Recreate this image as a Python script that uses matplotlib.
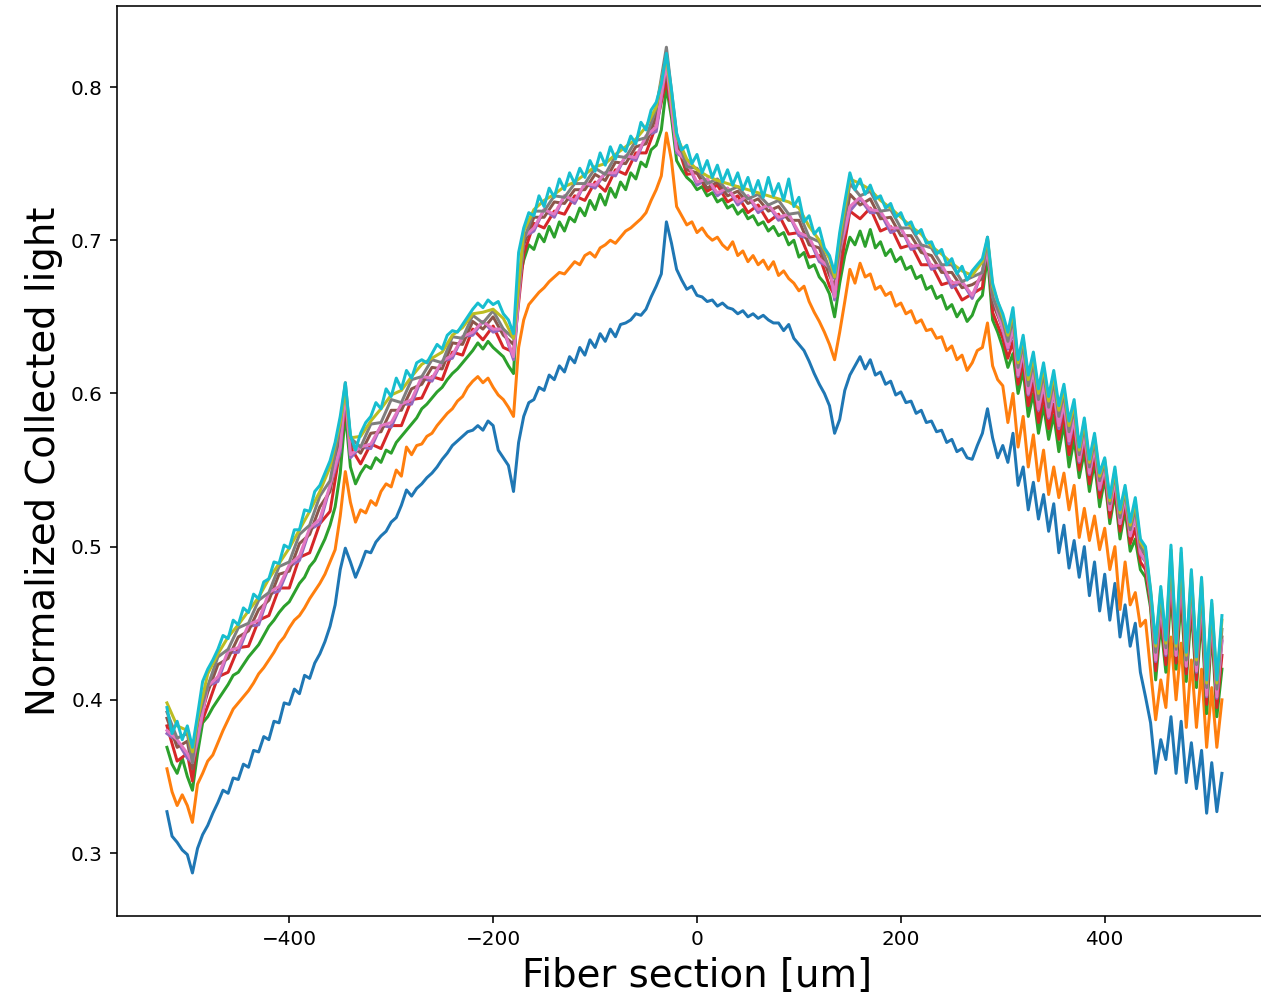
import numpy as np
import matplotlib
matplotlib.use("Agg")
import matplotlib.pyplot as plt

# Fine sampling grid (um) for the four fully-resolved curves
X_START = -520
X_STEP = 5

blue = [
    0.327, 0.311, 0.307, 0.302, 0.299, 0.287, 0.303, 0.312, 0.318, 0.326,
    0.333, 0.341, 0.339, 0.349, 0.348, 0.358, 0.356, 0.367, 0.366, 0.376,
    0.374, 0.386, 0.385, 0.398, 0.397, 0.407, 0.404, 0.416, 0.414, 0.424,
    0.430, 0.438, 0.448, 0.462, 0.485, 0.499, 0.490, 0.480, 0.488, 0.497,
    0.496, 0.503, 0.507, 0.510, 0.516, 0.519, 0.527, 0.537, 0.533, 0.538,
    0.541, 0.545, 0.548, 0.552, 0.557, 0.561, 0.566, 0.569, 0.572, 0.575,
    0.576, 0.579, 0.576, 0.582, 0.579, 0.563, 0.558, 0.553, 0.536, 0.568,
    0.585, 0.594, 0.596, 0.604, 0.602, 0.612, 0.609, 0.618, 0.614, 0.624,
    0.620, 0.630, 0.625, 0.635, 0.630, 0.639, 0.634, 0.642, 0.637, 0.645,
    0.646, 0.648, 0.652, 0.651, 0.655, 0.663, 0.670, 0.678, 0.712, 0.698,
    0.681, 0.674, 0.668, 0.670, 0.664, 0.663, 0.660, 0.661, 0.657, 0.659,
    0.656, 0.655, 0.652, 0.654, 0.650, 0.652, 0.649, 0.651, 0.648, 0.646,
    0.646, 0.641, 0.645, 0.636, 0.632, 0.628, 0.621, 0.613, 0.606, 0.600,
    0.592, 0.574, 0.583, 0.602, 0.612, 0.618, 0.624, 0.616, 0.622, 0.612,
    0.614, 0.606, 0.608, 0.599, 0.601, 0.594, 0.595, 0.587, 0.589, 0.581,
    0.582, 0.575, 0.576, 0.568, 0.570, 0.562, 0.564, 0.558, 0.557, 0.566,
    0.574, 0.590, 0.571, 0.558, 0.566, 0.555, 0.574, 0.540, 0.552, 0.524,
    0.542, 0.518, 0.534, 0.510, 0.528, 0.496, 0.514, 0.486, 0.504, 0.480,
    0.500, 0.468, 0.490, 0.458, 0.482, 0.452, 0.476, 0.441, 0.462, 0.435,
    0.450, 0.418, 0.402, 0.385, 0.352, 0.374, 0.361, 0.389, 0.352, 0.386,
    0.346, 0.372, 0.342, 0.367, 0.326, 0.359, 0.327, 0.352,
]

orange = [
    0.355, 0.340, 0.331, 0.338, 0.331, 0.320, 0.345, 0.352, 0.360, 0.364,
    0.372, 0.380, 0.387, 0.394, 0.398, 0.402, 0.406, 0.411, 0.417, 0.421,
    0.426, 0.431, 0.437, 0.441, 0.447, 0.452, 0.455, 0.460, 0.466, 0.471,
    0.476, 0.482, 0.490, 0.498, 0.520, 0.549, 0.529, 0.516, 0.524, 0.522,
    0.530, 0.527, 0.536, 0.541, 0.539, 0.550, 0.546, 0.565, 0.560, 0.566,
    0.567, 0.572, 0.574, 0.579, 0.583, 0.587, 0.590, 0.595, 0.598, 0.604,
    0.608, 0.611, 0.607, 0.610, 0.604, 0.599, 0.596, 0.591, 0.585, 0.630,
    0.648, 0.658, 0.662, 0.666, 0.669, 0.673, 0.676, 0.679, 0.678, 0.682,
    0.686, 0.684, 0.690, 0.692, 0.689, 0.695, 0.697, 0.700, 0.698, 0.702,
    0.706, 0.708, 0.711, 0.714, 0.718, 0.726, 0.733, 0.742, 0.770, 0.752,
    0.722, 0.716, 0.710, 0.712, 0.705, 0.708, 0.703, 0.700, 0.702, 0.697,
    0.694, 0.699, 0.690, 0.693, 0.686, 0.690, 0.684, 0.687, 0.681, 0.686,
    0.677, 0.680, 0.675, 0.672, 0.667, 0.670, 0.660, 0.653, 0.647, 0.640,
    0.632, 0.622, 0.640, 0.660, 0.681, 0.672, 0.685, 0.676, 0.678, 0.668,
    0.670, 0.664, 0.666, 0.657, 0.659, 0.652, 0.654, 0.646, 0.648, 0.641,
    0.642, 0.636, 0.637, 0.628, 0.631, 0.622, 0.625, 0.615, 0.620, 0.628,
    0.630, 0.646, 0.618, 0.609, 0.605, 0.581, 0.600, 0.565, 0.585, 0.552,
    0.573, 0.543, 0.563, 0.534, 0.552, 0.532, 0.548, 0.524, 0.540, 0.506,
    0.525, 0.504, 0.520, 0.498, 0.512, 0.485, 0.500, 0.459, 0.490, 0.462,
    0.470, 0.448, 0.452, 0.419, 0.387, 0.413, 0.395, 0.441, 0.400, 0.437,
    0.382, 0.426, 0.382, 0.420, 0.369, 0.408, 0.369, 0.400,
]

green = [
    0.369, 0.358, 0.352, 0.362, 0.350, 0.341, 0.365, 0.385, 0.389, 0.395,
    0.400, 0.405, 0.410, 0.416, 0.418, 0.423, 0.428, 0.432, 0.436, 0.442,
    0.448, 0.452, 0.457, 0.461, 0.464, 0.470, 0.476, 0.480, 0.487, 0.491,
    0.498, 0.505, 0.514, 0.526, 0.548, 0.587, 0.552, 0.541, 0.548, 0.553,
    0.551, 0.558, 0.555, 0.563, 0.561, 0.568, 0.572, 0.576, 0.580, 0.584,
    0.590, 0.593, 0.597, 0.601, 0.604, 0.609, 0.613, 0.616, 0.620, 0.624,
    0.628, 0.633, 0.629, 0.634, 0.630, 0.627, 0.624, 0.618, 0.613, 0.672,
    0.687, 0.697, 0.694, 0.704, 0.699, 0.709, 0.702, 0.712, 0.706, 0.715,
    0.712, 0.721, 0.716, 0.726, 0.720, 0.730, 0.723, 0.734, 0.728, 0.738,
    0.733, 0.744, 0.740, 0.751, 0.748, 0.759, 0.762, 0.772, 0.800, 0.780,
    0.752, 0.746, 0.741, 0.738, 0.733, 0.735, 0.729, 0.731, 0.725, 0.727,
    0.721, 0.723, 0.717, 0.720, 0.714, 0.716, 0.710, 0.712, 0.706, 0.709,
    0.703, 0.705, 0.697, 0.700, 0.689, 0.692, 0.682, 0.684, 0.676, 0.672,
    0.665, 0.650, 0.672, 0.690, 0.702, 0.697, 0.706, 0.696, 0.707, 0.695,
    0.699, 0.690, 0.694, 0.686, 0.689, 0.681, 0.683, 0.675, 0.677, 0.668,
    0.670, 0.662, 0.664, 0.655, 0.658, 0.650, 0.655, 0.647, 0.651, 0.660,
    0.664, 0.690, 0.648, 0.640, 0.630, 0.617, 0.626, 0.600, 0.615, 0.585,
    0.600, 0.574, 0.592, 0.570, 0.586, 0.562, 0.580, 0.552, 0.570, 0.545,
    0.562, 0.536, 0.555, 0.526, 0.545, 0.515, 0.535, 0.505, 0.524, 0.497,
    0.505, 0.485, 0.480, 0.460, 0.413, 0.450, 0.418, 0.470, 0.420, 0.466,
    0.412, 0.460, 0.408, 0.455, 0.391, 0.446, 0.389, 0.420,
]

cyan = [
    0.395, 0.378, 0.386, 0.374, 0.383, 0.369, 0.390, 0.412, 0.420, 0.426,
    0.433, 0.442, 0.440, 0.452, 0.449, 0.460, 0.457, 0.469, 0.466, 0.477,
    0.479, 0.490, 0.489, 0.501, 0.499, 0.511, 0.511, 0.524, 0.523, 0.536,
    0.540, 0.548, 0.556, 0.568, 0.585, 0.607, 0.573, 0.563, 0.574, 0.581,
    0.585, 0.594, 0.590, 0.603, 0.598, 0.610, 0.603, 0.615, 0.610, 0.620,
    0.622, 0.620, 0.626, 0.632, 0.629, 0.638, 0.641, 0.640, 0.645, 0.650,
    0.655, 0.659, 0.656, 0.661, 0.658, 0.660, 0.652, 0.648, 0.639, 0.692,
    0.708, 0.718, 0.716, 0.729, 0.722, 0.734, 0.728, 0.740, 0.733, 0.744,
    0.737, 0.747, 0.741, 0.752, 0.745, 0.757, 0.749, 0.761, 0.753, 0.762,
    0.758, 0.768, 0.763, 0.777, 0.772, 0.785, 0.790, 0.802, 0.822, 0.798,
    0.770, 0.759, 0.762, 0.750, 0.756, 0.744, 0.752, 0.741, 0.749, 0.738,
    0.746, 0.736, 0.744, 0.733, 0.741, 0.730, 0.739, 0.728, 0.741, 0.729,
    0.737, 0.726, 0.740, 0.722, 0.728, 0.712, 0.716, 0.704, 0.708, 0.695,
    0.690, 0.679, 0.705, 0.725, 0.744, 0.733, 0.740, 0.730, 0.736, 0.727,
    0.729, 0.721, 0.724, 0.715, 0.718, 0.710, 0.712, 0.704, 0.707, 0.698,
    0.699, 0.691, 0.694, 0.684, 0.688, 0.678, 0.683, 0.674, 0.680, 0.684,
    0.688, 0.702, 0.672, 0.660, 0.652, 0.640, 0.656, 0.622, 0.638, 0.612,
    0.627, 0.603, 0.620, 0.598, 0.615, 0.592, 0.606, 0.582, 0.596, 0.565,
    0.584, 0.557, 0.574, 0.548, 0.558, 0.532, 0.552, 0.524, 0.540, 0.516,
    0.532, 0.505, 0.500, 0.472, 0.437, 0.474, 0.439, 0.501, 0.437, 0.499,
    0.431, 0.485, 0.428, 0.480, 0.413, 0.465, 0.413, 0.455,
]

# Coarser sampling grid (um) for the six tightly bunched middle curves
x_cluster = sorted(list(range(-520, 300, 10)) + [-495, -345, 135, 285]
                   + list(range(300, 516, 5)))

red = [
    0.383, 0.360, 0.365, 0.347, 0.378, 0.396, 0.415, 0.418, 0.434, 0.435, 0.452, 0.455, 0.473,
    0.473, 0.493, 0.496, 0.515, 0.523, 0.564, 0.591, 0.565, 0.554, 0.567, 0.564, 0.579,
    0.579, 0.596, 0.597, 0.611, 0.609, 0.627, 0.625, 0.642, 0.635, 0.644, 0.630, 0.627, 0.691,
    0.711, 0.708, 0.719, 0.717, 0.729, 0.726, 0.738, 0.732, 0.746, 0.743, 0.757, 0.757, 0.775,
    0.805, 0.764, 0.743,
    0.744, 0.732, 0.736, 0.725, 0.729, 0.718, 0.723, 0.712, 0.717, 0.704, 0.705, 0.689, 0.690,
    0.670, 0.664, 0.679, 0.719, 0.714, 0.721, 0.706, 0.709, 0.695, 0.697, 0.684, 0.684, 0.671,
    0.673, 0.661, 0.665, 0.669, 0.700, 0.653,
    0.636, 0.623, 0.634, 0.606, 0.621, 0.592, 0.607, 0.581, 0.599, 0.577, 0.593, 0.570, 0.587,
    0.560, 0.577, 0.550, 0.568, 0.541, 0.560, 0.532, 0.548, 0.519, 0.539, 0.510, 0.528, 0.502,
    0.512, 0.490, 0.485, 0.463, 0.419, 0.456, 0.423, 0.478, 0.424, 0.474, 0.417, 0.466, 0.413,
    0.461, 0.397, 0.451, 0.395, 0.429,
]

purple = [
    0.378, 0.373, 0.362, 0.359, 0.373, 0.409, 0.412, 0.431, 0.431, 0.448, 0.449, 0.469, 0.471,
    0.487, 0.491, 0.511, 0.515, 0.539, 0.562, 0.601, 0.558, 0.565, 0.564, 0.579, 0.578,
    0.593, 0.593, 0.610, 0.608, 0.621, 0.623, 0.637, 0.638, 0.647, 0.640, 0.642, 0.622, 0.702,
    0.706, 0.720, 0.715, 0.729, 0.724, 0.737, 0.734, 0.744, 0.742, 0.755, 0.752, 0.768, 0.771,
    0.815, 0.757, 0.752,
    0.736, 0.740, 0.729, 0.734, 0.723, 0.729, 0.718, 0.723, 0.713, 0.717, 0.703, 0.701, 0.686,
    0.682, 0.661, 0.693, 0.719, 0.727, 0.718, 0.718, 0.705, 0.708, 0.694, 0.696, 0.681, 0.683,
    0.669, 0.673, 0.662, 0.680, 0.692, 0.664,
    0.641, 0.629, 0.641, 0.611, 0.627, 0.599, 0.614, 0.589, 0.606, 0.584, 0.601, 0.577, 0.593,
    0.567, 0.583, 0.555, 0.573, 0.547, 0.565, 0.537, 0.552, 0.524, 0.544, 0.515, 0.532, 0.507,
    0.519, 0.495, 0.490, 0.466, 0.425, 0.462, 0.429, 0.486, 0.429, 0.483, 0.422, 0.473, 0.418,
    0.468, 0.402, 0.456, 0.401, 0.438,
]

brown = [
    0.388, 0.369, 0.373, 0.355, 0.382, 0.405, 0.423, 0.427, 0.441, 0.445, 0.459, 0.465, 0.482,
    0.484, 0.502, 0.508, 0.526, 0.536, 0.573, 0.596, 0.567, 0.561, 0.574, 0.575, 0.589,
    0.589, 0.603, 0.606, 0.617, 0.616, 0.633, 0.632, 0.647, 0.642, 0.650, 0.638, 0.632, 0.697,
    0.715, 0.715, 0.725, 0.724, 0.733, 0.733, 0.743, 0.739, 0.751, 0.750, 0.761, 0.763, 0.781,
    0.810, 0.766, 0.746,
    0.744, 0.734, 0.738, 0.729, 0.732, 0.724, 0.727, 0.719, 0.722, 0.713, 0.713, 0.697, 0.695,
    0.677, 0.670, 0.689, 0.730, 0.723, 0.727, 0.714, 0.715, 0.703, 0.703, 0.692, 0.690, 0.679,
    0.679, 0.669, 0.671, 0.675, 0.700, 0.659,
    0.643, 0.631, 0.644, 0.613, 0.629, 0.601, 0.616, 0.591, 0.609, 0.587, 0.603, 0.580, 0.596,
    0.570, 0.586, 0.557, 0.575, 0.549, 0.566, 0.539, 0.553, 0.525, 0.545, 0.516, 0.534, 0.508,
    0.521, 0.497, 0.492, 0.467, 0.427, 0.464, 0.431, 0.489, 0.430, 0.486, 0.423, 0.475, 0.420,
    0.470, 0.404, 0.457, 0.403, 0.441,
]

pink = [
    0.380, 0.374, 0.365, 0.359, 0.375, 0.409, 0.415, 0.432, 0.434, 0.449, 0.452, 0.470, 0.474,
    0.488, 0.494, 0.512, 0.518, 0.540, 0.565, 0.601, 0.560, 0.565, 0.567, 0.579, 0.581,
    0.593, 0.596, 0.611, 0.610, 0.621, 0.625, 0.637, 0.640, 0.647, 0.642, 0.642, 0.624, 0.702,
    0.708, 0.720, 0.717, 0.729, 0.726, 0.737, 0.736, 0.744, 0.744, 0.755, 0.754, 0.768, 0.774,
    0.815, 0.759, 0.751,
    0.738, 0.740, 0.731, 0.734, 0.725, 0.729, 0.720, 0.723, 0.715, 0.717, 0.705, 0.702, 0.688,
    0.682, 0.663, 0.693, 0.722, 0.728, 0.720, 0.719, 0.708, 0.708, 0.696, 0.697, 0.683, 0.684,
    0.672, 0.673, 0.664, 0.680, 0.694, 0.664,
    0.642, 0.630, 0.643, 0.612, 0.628, 0.600, 0.615, 0.590, 0.607, 0.585, 0.602, 0.579, 0.594,
    0.569, 0.584, 0.556, 0.574, 0.548, 0.565, 0.538, 0.552, 0.524, 0.544, 0.515, 0.533, 0.507,
    0.520, 0.496, 0.491, 0.467, 0.426, 0.463, 0.430, 0.487, 0.429, 0.484, 0.422, 0.474, 0.419,
    0.469, 0.403, 0.456, 0.402, 0.439,
]

gray = [
    0.392, 0.375, 0.378, 0.359, 0.386, 0.409, 0.428, 0.433, 0.447, 0.450, 0.465, 0.470, 0.487,
    0.490, 0.508, 0.514, 0.533, 0.543, 0.579, 0.607, 0.571, 0.565, 0.580, 0.581, 0.596,
    0.594, 0.609, 0.611, 0.622, 0.620, 0.637, 0.636, 0.651, 0.646, 0.654, 0.642, 0.636, 0.700,
    0.719, 0.719, 0.729, 0.728, 0.737, 0.737, 0.747, 0.743, 0.755, 0.754, 0.765, 0.767, 0.786,
    0.826, 0.769, 0.748,
    0.747, 0.737, 0.740, 0.732, 0.735, 0.727, 0.730, 0.723, 0.726, 0.717, 0.718, 0.702, 0.699,
    0.681, 0.675, 0.694, 0.737, 0.729, 0.732, 0.719, 0.720, 0.708, 0.708, 0.697, 0.695, 0.684,
    0.684, 0.673, 0.676, 0.679, 0.702, 0.663,
    0.647, 0.634, 0.649, 0.617, 0.632, 0.605, 0.620, 0.596, 0.613, 0.591, 0.608, 0.585, 0.600,
    0.575, 0.590, 0.560, 0.579, 0.552, 0.569, 0.543, 0.555, 0.528, 0.548, 0.519, 0.536, 0.511,
    0.525, 0.500, 0.495, 0.469, 0.431, 0.468, 0.434, 0.493, 0.433, 0.491, 0.426, 0.479, 0.423,
    0.474, 0.408, 0.460, 0.407, 0.446,
]

olive = [
    0.398, 0.383, 0.380, 0.366, 0.387, 0.417, 0.430, 0.441, 0.449, 0.458, 0.467, 0.479, 0.489,
    0.499, 0.511, 0.523, 0.536, 0.552, 0.581, 0.603, 0.571, 0.572, 0.582, 0.590, 0.599,
    0.602, 0.611, 0.619, 0.623, 0.627, 0.638, 0.643, 0.652, 0.653, 0.655, 0.649, 0.636, 0.706,
    0.720, 0.726, 0.730, 0.735, 0.738, 0.743, 0.748, 0.750, 0.756, 0.761, 0.766, 0.774, 0.787,
    0.820, 0.768, 0.753,
    0.746, 0.742, 0.739, 0.737, 0.735, 0.733, 0.731, 0.729, 0.727, 0.725, 0.721, 0.709, 0.700,
    0.688, 0.676, 0.702, 0.740, 0.737, 0.733, 0.726, 0.721, 0.715, 0.709, 0.704, 0.696, 0.691,
    0.685, 0.680, 0.677, 0.686, 0.701, 0.670,
    0.650, 0.638, 0.653, 0.620, 0.636, 0.609, 0.624, 0.600, 0.617, 0.595, 0.612, 0.589, 0.603,
    0.579, 0.593, 0.563, 0.582, 0.555, 0.572, 0.546, 0.557, 0.530, 0.550, 0.522, 0.538, 0.514,
    0.529, 0.503, 0.498, 0.471, 0.435, 0.472, 0.437, 0.498, 0.435, 0.496, 0.429, 0.483, 0.426,
    0.478, 0.411, 0.463, 0.411, 0.452,
]

xlabel = "Fiber section [um]"
ylabel = "Normalized Collected light"

DPI = 144
fig = plt.figure(figsize=(1261 / DPI, 1002 / DPI), dpi=DPI)
# axes extends past the right edge of the canvas, as in the reference crop
ax = fig.add_axes([117 / 1261, 86 / 1002, 1161 / 1261, 910 / 1002])
ax.spines["right"].set_visible(False)

fine_x = X_START + X_STEP * np.arange(208)
cx = np.array(x_cluster)

series = [
    (fine_x, blue), (fine_x, orange), (fine_x, green),
    (cx, red), (cx, purple), (cx, brown), (cx, pink), (cx, gray), (cx, olive),
    (fine_x, cyan),
]
colors = ["tab:blue", "tab:orange", "tab:green", "tab:red", "tab:purple",
          "tab:brown", "tab:pink", "tab:gray", "tab:olive", "tab:cyan"]

for (xs, ys), c in zip(series, colors):
    n = min(len(xs), len(ys))
    ax.plot(xs[:n], ys[:n], color=c, linewidth=1.5)

ax.set_xlim(-569, 570)
ax.set_ylim(0.2589, 0.8529)
ax.set_xticks([-400, -200, 0, 200, 400])
ax.set_yticks([0.3, 0.4, 0.5, 0.6, 0.7, 0.8])
ax.set_xlabel(xlabel, fontsize=19.3)
ax.set_ylabel(ylabel, fontsize=19.3)

fig.savefig("out.png", dpi=DPI)
